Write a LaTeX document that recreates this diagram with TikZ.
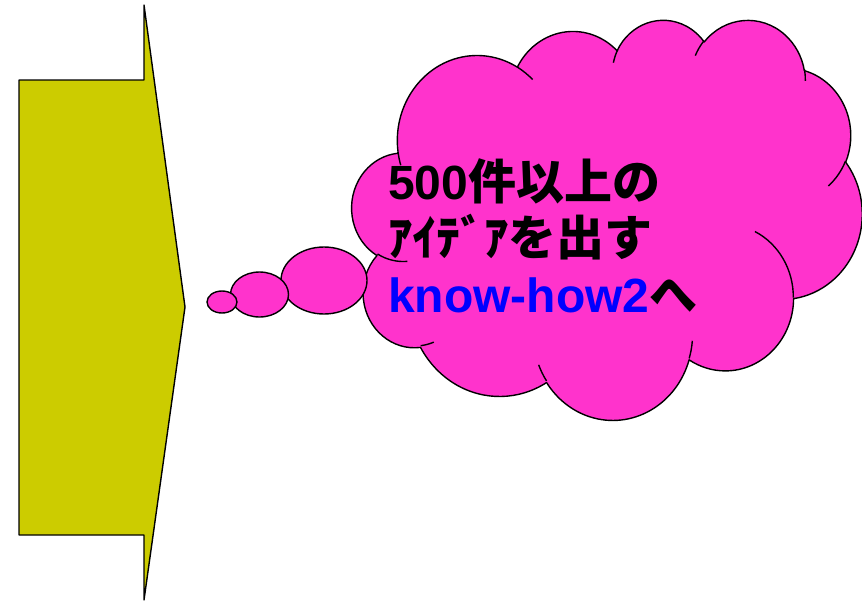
\documentclass[tikz,border=0pt]{standalone}
\usepackage{fontspec}
\newfontfamily\lat{Liberation Sans}
\newfontfamily\jp{Noto Sans CJK JP}
\definecolor{arrowfill}{HTML}{CCCC00}
\definecolor{cloudfill}{HTML}{FF33CC}
\definecolor{txtblue}{HTML}{0000FF}
\newcommand\cloudprep[5]{%
  \pgfmathsetmacro\tmpS{atan2((#2)*sin(#4),(#3)*cos(#4))}%
  \pgfmathsetmacro\tmpE{atan2((#2)*sin((#4)+(#5)),(#3)*cos((#4)+(#5)))}%
  \pgfmathsetmacro\tmpE{(\tmpE<\tmpS) ? (\tmpE+360) : \tmpE}%
  \expandafter\xdef\csname #1\endcsname{arc[start angle=\tmpS, end angle=\tmpE, x radius=#2, y radius=#3]}%
}
\tikzset{
  outline/.style={draw=black, line width=1.4pt, line join=round},
  arrowshape/.style={outline, fill=arrowfill},
  cloudshape/.style={outline, fill=cloudfill},
  cloudinner/.style={draw=black, line width=1.4pt},
  txt/.style={inner sep=0pt, font=\fontsize{48}{56}\selectfont\bfseries},
}
\begin{document}
\begin{tikzpicture}[x=1pt, y=-1pt]
\cloudprep{arcA}{67.53}{91.90}{-190.4875}{123.7805}
\cloudprep{arcB}{53.33}{72.67}{-144.1024}{89.9452}
\cloudprep{arcC}{43.65}{59.45}{-145.8079}{99.7230}
\cloudprep{arcD}{48.57}{65.95}{-130.9861}{117.2417}
\cloudprep{arcE}{53.33}{72.73}{-78.7089}{109.0269}
\cloudprep{arcF}{67.75}{92.20}{-46.2673}{130.2690}
\cloudprep{arcG}{57.85}{78.67}{0.6250}{114.0333}
\cloudprep{arcH}{67.52}{92.15}{22.4516}{115.1726}
\cloudprep{arcI}{77.20}{105.43}{66.2426}{75.7110}
\cloudprep{arcJ}{43.60}{59.18}{-274.9421}{146.7356}
\cloudprep{arcK}{43.45}{59.45}{-246.8285}{152.5189}
\cloudprep{inA}{43.45}{59.45}{86.7420}{26.4295}
\cloudprep{inB}{43.60}{59.18}{73.6105}{11.4475}
\cloudprep{inC}{67.52}{92.15}{137.6242}{14.0811}
\cloudprep{inD}{67.52}{92.15}{6.4533}{15.9984}
\cloudprep{inE}{57.85}{78.67}{-70.2924}{70.9174}
\cloudprep{inF}{53.33}{72.73}{30.3180}{27.7515}
\cloudprep{inG}{48.57}{65.95}{-13.7443}{14.8589}
\cloudprep{inH}{48.57}{65.95}{-149.1815}{18.1954}
\cloudprep{inI}{43.65}{59.45}{-163.4943}{17.6864}
\cloudprep{inJ}{67.53}{91.90}{-66.7070}{12.3194}
\cloudprep{inK}{67.53}{91.90}{157.6544}{11.8582}
\fill[white] (0,0) rectangle (862,603);
\useasboundingbox (0,0) rectangle (862,603);
\clip (0,0) rectangle (862,603);
% arrow
\draw[arrowshape] (19,80) -- (144,80) -- (144,5) -- (185,307) -- (144,600) -- (144,535) -- (19,535) -- cycle;
% cloud
\begin{scope}[shift={(352,19)}, x=1.1806pt, y=-0.9259pt]
  \draw[cloudshape] (39.00,143.70) \arcA \arcB \arcC \arcD \arcE \arcF \arcG \arcH \arcI \arcJ \arcK -- cycle;
  \draw[cloudinner] (46.93,261.77) \inA (69.28,348.99) \inB (164.78,390.90) \inC
    (288.27,347.51) \inD (341.29,229.54) \inE (417.98,153.54) \inF
    (383.24,54.26) \inG (290.78,39.52) \inH (221.41,47.20) \inI
    (140.00,51.92) \inJ (41.27,157.89) \inK;
\end{scope}
% thought bubbles
\draw[cloudshape] (324,280.5) ellipse[x radius=43, y radius=33.5];
\draw[cloudshape] (259.5,294.5) ellipse[x radius=29, y radius=22.5];
\draw[cloudshape] (222,302) ellipse[x radius=15, y radius=11];
% text
\node[txt, anchor=base west] (l1) at (388,199) {{\lat 500}{\jp 件以上の}};
\node[txt, anchor=base west] (l2) at (388,255.5) {{\jp ｱｲﾃﾞｱを出す}};
\node[txt, anchor=base west] (l3) at (388,312) {{\lat\color{txtblue}know-how2}{\jp へ}};
\end{tikzpicture}
\end{document}
